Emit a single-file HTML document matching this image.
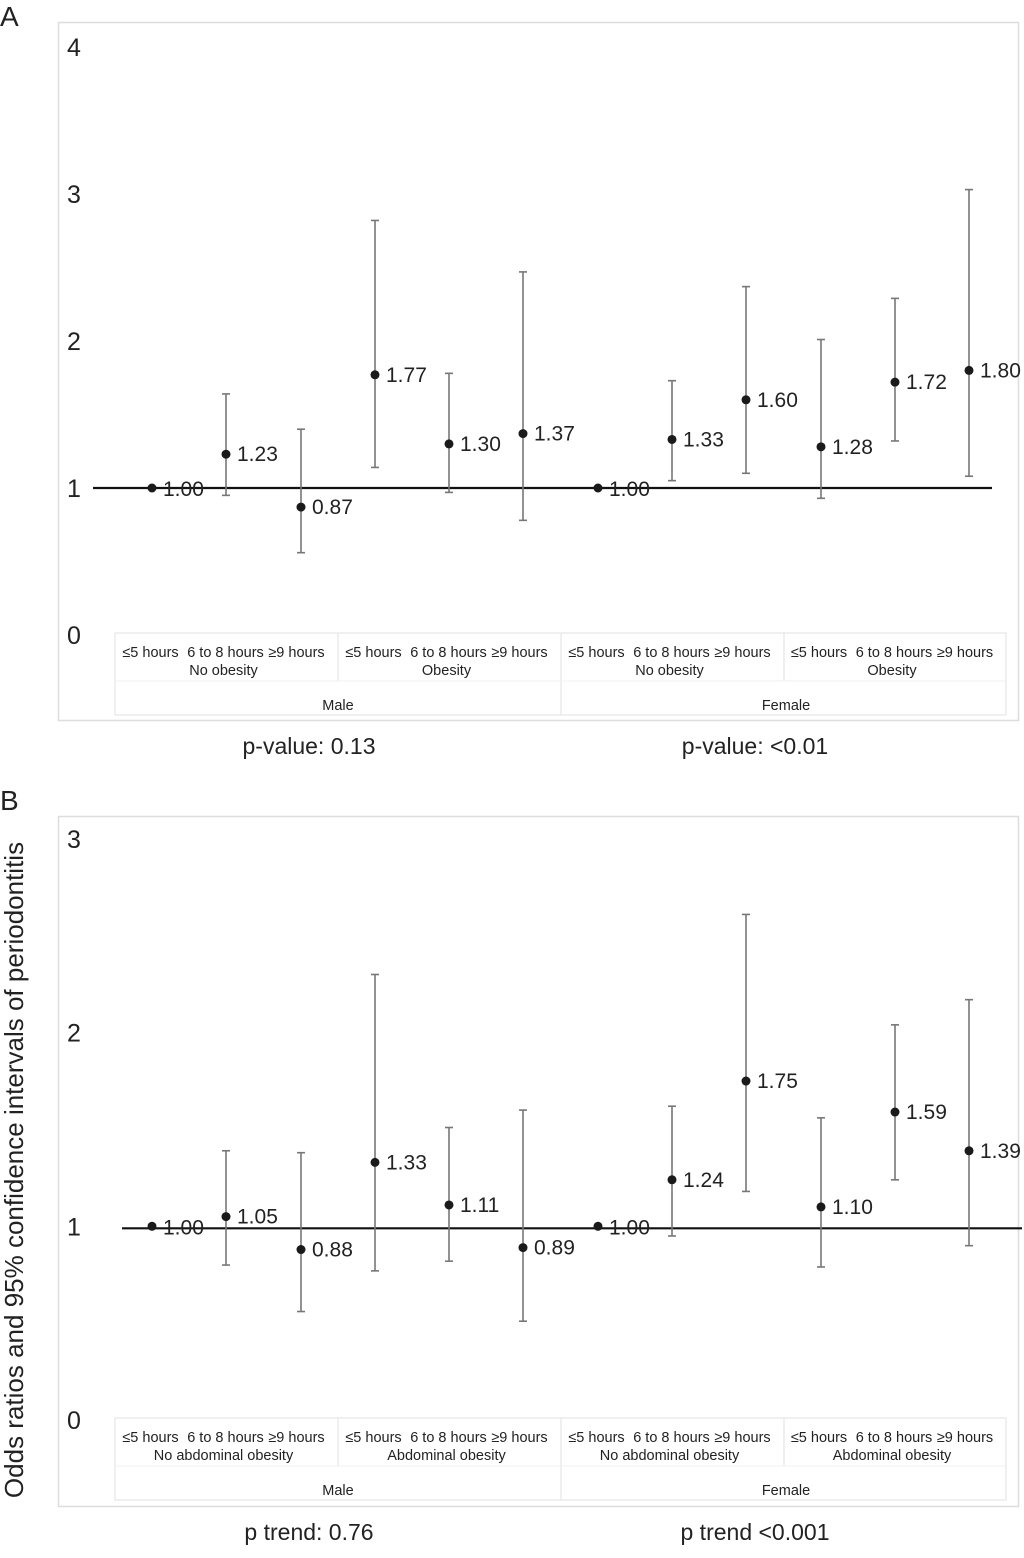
<!DOCTYPE html>
<html><head><meta charset="utf-8"><style>
html,body{margin:0;padding:0;background:#fff;}
svg{display:block;font-family:"Liberation Sans",sans-serif;}
</style></head><body>
<svg id="chart" width="1024" height="1558" viewBox="0 0 1024 1558">
<text x="0" y="26" font-size="28" fill="#222">A</text>
<text x="0" y="810" font-size="28" fill="#222">B</text>
<text transform="translate(23,1170) rotate(-90)" text-anchor="middle" font-size="26" fill="#222">Odds ratios and 95% confidence intervals of periodontitis</text>
<g id="pa"></g>
<g id="pb"></g>
</svg>
<script>
const xPos = [152,226,301,375,449,523,598,672,746,821,895,969];
const aOR = [1.00,1.23,0.87,1.77,1.30,1.37,1.00,1.33,1.60,1.28,1.72,1.80];
const aLo = [null,0.95,0.56,1.14,0.97,0.78,null,1.05,1.10,0.93,1.32,1.08];
const aHi = [null,1.64,1.40,2.82,1.78,2.47,null,1.73,2.37,2.01,2.29,3.03];
const aTicks = [0,1,2,3,4];
const aGroups = ["No obesity","Obesity","No obesity","Obesity"];
const aP = ["p-value: 0.13","p-value: <0.01"];
const bOR = [1.00,1.05,0.88,1.33,1.11,0.89,1.00,1.24,1.75,1.10,1.59,1.39];
const bLo = [null,0.80,0.56,0.77,0.82,0.51,null,0.95,1.18,0.79,1.24,0.90];
const bHi = [null,1.39,1.38,2.30,1.51,1.60,null,1.62,2.61,1.56,2.04,2.17];
const bTicks = [0,1,2,3];
const bGroups = ["No abdominal obesity","Abdominal obesity","No abdominal obesity","Abdominal obesity"];
const bP = ["p trend: 0.76","p trend <0.001"];
const sleep = ["≤5 hours","6 to 8 hours","≥9 hours"];
const sexes = ["Male","Female"];
const NS="http://www.w3.org/2000/svg";
function mk(parent,tag,attrs,text){const e=document.createElementNS(NS,tag);for(const k in attrs)e.setAttribute(k,attrs[k]);if(text!==undefined)e.textContent=text;parent.appendChild(e);return e;}
function panel(g,cfg){
  const y=v=>cfg.y0-v*cfg.unit;
  let e=mk(g,'rect',{x:58.5,y:cfg.top+0.5,width:960,height:cfg.bottom-cfg.top,fill:'none',stroke:'#ddd','stroke-width':1.5});
  
  
  cfg.ticks.forEach(t=>{const l=mk(g,'text',{x:67,y:y(t)+9,'font-size':25,fill:'#222'},String(t));
    
    });
  const tb=cfg.y0-2, th=82;
  const bounds=[115,338,561,784,1006];
  const offs=[-76,-1,70];
  mk(g,'rect',{x:115,y:tb,width:891,height:th,fill:'none',stroke:'#e6e6e6','stroke-width':1.2});
  for(let i=1;i<4;i++){mk(g,'line',{x1:bounds[i],x2:bounds[i],y1:tb,y2:i===2?tb+th:tb+48,stroke:'#e6e6e6','stroke-width':1.2});}
  mk(g,'line',{x1:115,x2:1006,y1:tb+48,y2:tb+48,stroke:'#f0f0f0'});
  for(let gi=0;gi<4;gi++){
    const cx=(bounds[gi]+bounds[gi+1])/2;
    for(let s=0;s<3;s++){const t=mk(g,'text',{x:cx+offs[s],y:tb+24,'font-size':14.5,'text-anchor':'middle',fill:'#222'},sleep[s]);
      
      }
    const t=mk(g,'text',{x:cx-3,y:tb+42,'font-size':14.5,'text-anchor':'middle',fill:'#222'},cfg.groups[gi]);
    
    
  }
  for(let s=0;s<2;s++){const t=mk(g,'text',{x:[338,786][s],y:tb+77,'font-size':14.5,'text-anchor':'middle',fill:'#222'},sexes[s]);
    
    
    const p=mk(g,'text',{x:[309,755][s],y:cfg.bottom+34,'font-size':23,'text-anchor':'middle',fill:'#222'},cfg.p[s]);
    
    }
  const bl=mk(g,'line',{x1:cfg.lx1,x2:cfg.lx2,y1:y(1)+cfg.loff,y2:y(1)+cfg.loff,stroke:'#111','stroke-width':2.2});
  
  
  cfg.or.forEach((v,i)=>{const x=xPos[i];
    if(cfg.lo[i]!==null){
      const w=mk(g,'g',{});
      
      
      mk(w,'line',{x1:x,x2:x,y1:y(cfg.hi[i]),y2:y(cfg.lo[i]),stroke:'#777','stroke-width':1.6});
      mk(w,'line',{x1:x-4,x2:x+4,y1:y(cfg.hi[i]),y2:y(cfg.hi[i]),stroke:'#777','stroke-width':1.6});
      mk(w,'line',{x1:x-4,x2:x+4,y1:y(cfg.lo[i]),y2:y(cfg.lo[i]),stroke:'#777','stroke-width':1.6});
    }
    const c=mk(g,'circle',{cx:x,cy:y(v),r:4.5,fill:'#1a1a1a'});
    
    
    const lab=mk(g,'text',{x:x+11,y:y(v)+(v===1?8:7),'font-size':21,fill:'#222'},v.toFixed(2));
    
    
  });
}
panel(document.getElementById('pa'),{top:22,bottom:720,y0:635,unit:147,ticks:aTicks,groups:aGroups,p:aP,or:aOR,lo:aLo,hi:aHi,lx1:93,lx2:992,loff:0});
panel(document.getElementById('pb'),{top:816,bottom:1506,y0:1420,unit:193.7,ticks:bTicks,groups:bGroups,p:bP,or:bOR,lo:bLo,hi:bHi,lx1:122,lx2:1022,loff:2});
</script>
</body></html>
